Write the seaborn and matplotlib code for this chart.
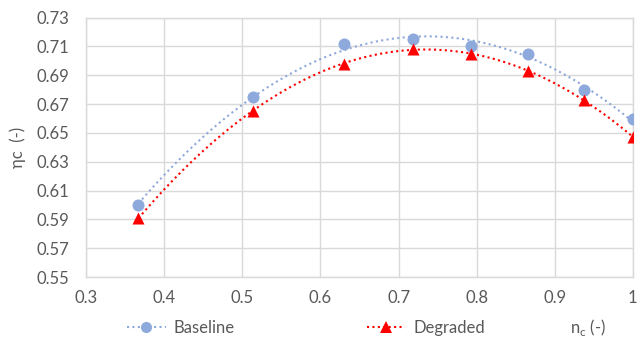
import numpy as np
import pandas as pd
import matplotlib
matplotlib.use("Agg")
import matplotlib.pyplot as plt
from matplotlib.lines import Line2D
from matplotlib.ticker import FuncFormatter
import seaborn as sns

# data
speed = [0.367, 0.513, 0.630, 0.718, 0.793, 0.866, 0.937, 1.000]
baseline = [0.600, 0.675, 0.712, 0.715, 0.710, 0.705, 0.680, 0.660]
degraded = [0.591, 0.665, 0.698, 0.708, 0.705, 0.693, 0.673, 0.647]
series_names = ["Baseline", "Degraded"]
x_ticks = [0.3, 0.4, 0.5, 0.6, 0.7, 0.8, 0.9, 1.0]
y_ticks = [0.55, 0.57, 0.59, 0.61, 0.63, 0.65, 0.67, 0.69, 0.71, 0.73]

sns.set_theme(style="white")
plt.rcParams["font.family"] = ["Lato", "DejaVu Sans"]

blue = "#8EA9DB"
red = "#FF0000"
txt = "#595959"
grid = "#D9D9D9"
fs = 12

df = pd.DataFrame({"speed": speed * 2,
                   "eff": baseline + degraded,
                   "series": [series_names[0]] * len(speed) + [series_names[1]] * len(speed)})

fig = plt.figure(figsize=(6.38, 3.38), dpi=100)
ax = fig.add_axes([0.135, 0.180, 0.857, 0.768])

dots = (0, (1, 1.6))
for name, col, mk in [(series_names[0], blue, "o"), (series_names[1], red, "^")]:
    sub = df[df["series"] == name]
    sns.regplot(data=sub, x="speed", y="eff", order=2, ci=None, scatter=False, ax=ax,
                line_kws=dict(color=col, lw=1.5, linestyle=dots), truncate=True)
    sns.scatterplot(data=sub, x="speed", y="eff", ax=ax, color=col, marker=mk,
                    s=75, linewidth=0, zorder=5)

ax.set_xlim(0.3, 1.0)
ax.set_ylim(0.55, 0.73)
ax.set_xticks(x_ticks)
ax.set_yticks(y_ticks)
ax.xaxis.set_major_formatter(FuncFormatter(lambda v, p: f"{v:g}"))
ax.yaxis.set_major_formatter(FuncFormatter(lambda v, p: f"{v:.2f}"))
ax.grid(True, color=grid, lw=1)
for s in ax.spines.values():
    s.set_color(grid)
    s.set_linewidth(1)
ax.tick_params(axis="y", length=0, labelsize=fs, colors=txt, pad=12)
ax.tick_params(axis="x", length=0, labelsize=fs, colors=txt, pad=9)
ax.set_xlabel("")
ax.set_ylabel("ηc  (-)", color=txt, fontsize=fs, labelpad=8)

handles = [Line2D([0], [0], color=blue, lw=1.5, linestyle=dots, marker="o", markersize=8, markeredgewidth=0),
           Line2D([0], [0], color=red, lw=1.5, linestyle=dots, marker="^", markersize=8, markeredgewidth=0)]
for h, name, xa in [(handles[0], series_names[0], 0.176), (handles[1], series_names[1], 0.551)]:
    leg = fig.legend([h], [name], loc="center left", bbox_to_anchor=(xa, 0.03),
                     frameon=False, fontsize=fs, handlelength=2.3, handletextpad=0.5)
    for t in leg.get_texts():
        t.set_color(txt)
fig.text(0.921, 0.03, r"n$_\mathregular{c}$ (-)", ha="center", va="center", color=txt, fontsize=fs)

fig.savefig("out.png", dpi=100, facecolor="white")
